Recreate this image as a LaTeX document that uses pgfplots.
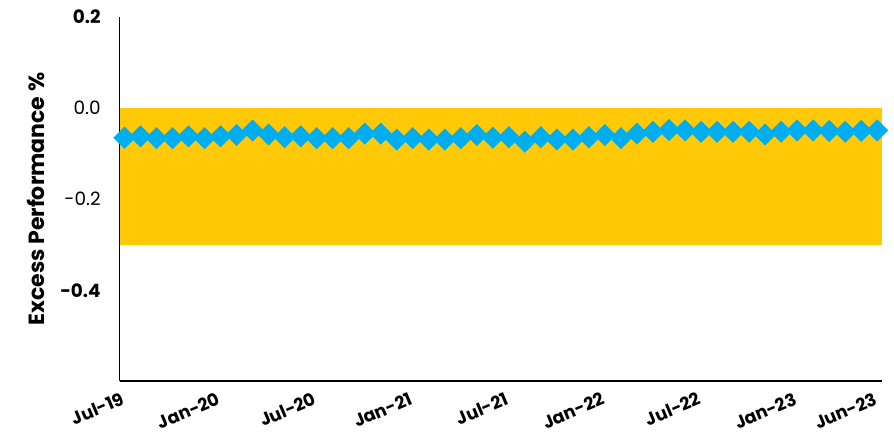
\documentclass[border=0pt]{standalone}
\usepackage{pgfplots}
\pgfplotsset{compat=1.18}
\usepackage{fontspec}
\setmainfont{Poppins}
\definecolor{bandyellow}{HTML}{FFC907}
\definecolor{markblue}{HTML}{00AEEF}

\begin{document}
\begin{tikzpicture}
\begin{axis}[
    width=381pt, height=182pt,
    scale only axis,
    clip=false,
    axis lines*=left,
    axis line style={line width=0.8pt, black},
    xmin=-0.3, xmax=47.3,
    ymin=-0.6, ymax=0.2,
    xtick={0,6,12,18,24,30,36,42,47},
    xticklabels={Jul-19,Jan-20,Jul-20,Jan-21,Jul-21,Jan-22,Jul-22,Jan-23,Jun-23},
    xticklabel style={rotate=23, anchor=north east, font=\fontsize{8.8}{10}\selectfont\bfseries, yshift=-0.5pt, xshift=-0.5pt},
    ytick={-0.4,-0.2,0,0.2},
    yticklabels={\textbf{-0.4},-0.2,0.0,\textbf{0.2}},
    yticklabel style={font=\fontsize{9.2}{10}\selectfont, xshift=-6pt},
    major tick length=0pt,
    ylabel={Excess Performance \%},
    ylabel style={font=\fontsize{11}{13}\selectfont\bfseries, yshift=1pt},
]
\coordinate (bl) at (rel axis cs:-0.157,-0.151);
\coordinate (tr) at (rel axis cs:1.0157,1.047);

\addplot[fill=bandyellow, draw=none] coordinates {(-0.3,0) (47.3,0) (47.3,-0.3) (-0.3,-0.3)} -- cycle;

\addplot[only marks, mark=square*, mark size=3.7pt, mark options={rotate=45, fill=markblue, draw=markblue}]
coordinates {
(0,-0.065) (1,-0.062) (2,-0.066) (3,-0.066) (4,-0.062) (5,-0.066)
(6,-0.062) (7,-0.059) (8,-0.049) (9,-0.058) (10,-0.064) (11,-0.062)
(12,-0.066) (13,-0.066) (14,-0.066) (15,-0.056) (16,-0.056) (17,-0.069)
(18,-0.066) (19,-0.069) (20,-0.069) (21,-0.066) (22,-0.059) (23,-0.065)
(24,-0.064) (25,-0.074) (26,-0.064) (27,-0.069) (28,-0.069) (29,-0.064)
(30,-0.059) (31,-0.066) (32,-0.056) (33,-0.052) (34,-0.048) (35,-0.049)
(36,-0.052) (37,-0.052) (38,-0.052) (39,-0.052) (40,-0.058) (41,-0.052)
(42,-0.049) (43,-0.049) (44,-0.050) (45,-0.052) (46,-0.050) (47,-0.049)
};
\end{axis}
\pgfresetboundingbox
\path[use as bounding box] (bl) rectangle (tr);
\end{tikzpicture}
\end{document}
